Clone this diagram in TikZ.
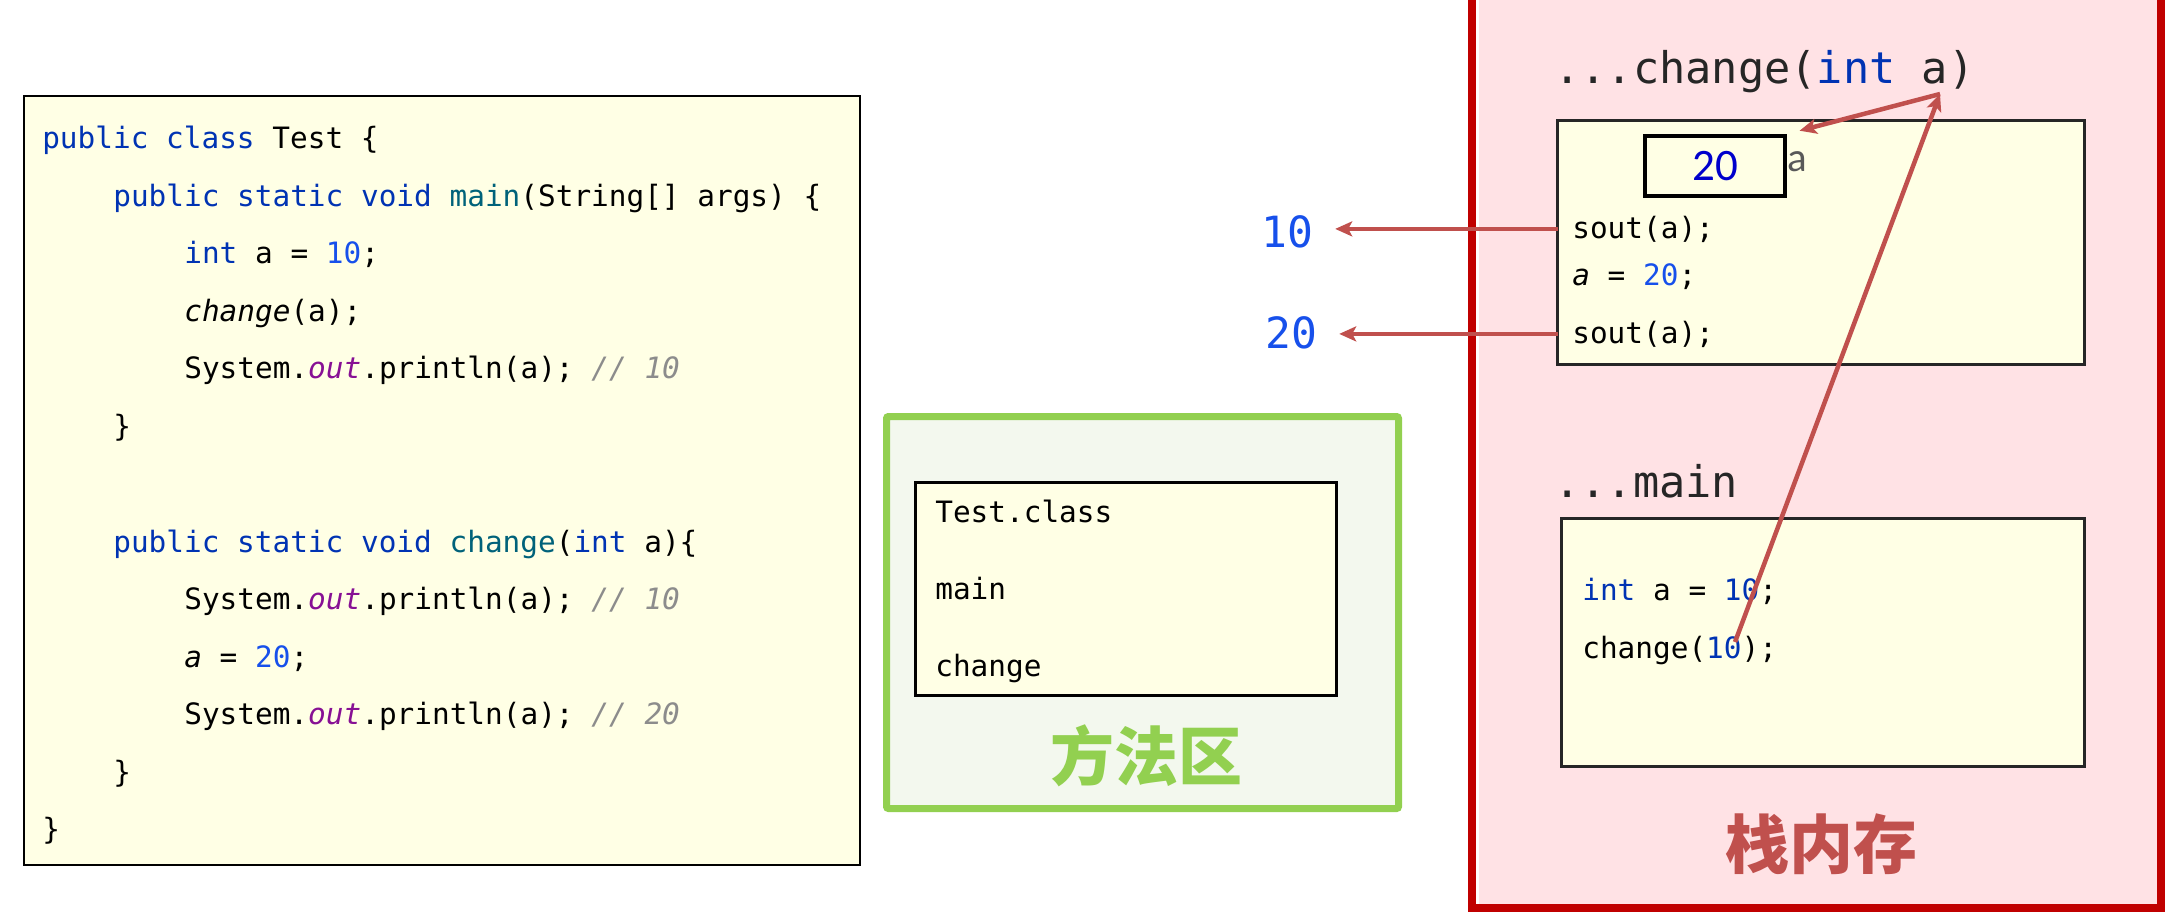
\documentclass[tikz,border=0pt]{standalone}
\usepackage{fontspec}
\setmonofont{DejaVu Sans Mono}
\newfontfamily\cjk{Noto Sans CJK SC}
\newfontfamily\calibri{Carlito}
\usepackage{tikz}
\usetikzlibrary{arrows.meta}

\definecolor{kwblue}{HTML}{0033B3}
\definecolor{numblue}{HTML}{1750EB}
\definecolor{fnteal}{HTML}{00627A}
\definecolor{outpurple}{HTML}{871094}
\definecolor{cmtgray}{HTML}{8C8C8C}
\definecolor{codeyellow}{HTML}{FFFFE5}
\definecolor{areagreen}{HTML}{92D050}
\definecolor{areafill}{HTML}{F3F8EE}
\definecolor{stackred}{HTML}{C00000}
\definecolor{stackfill}{HTML}{FFE2E5}
\definecolor{arrowred}{HTML}{C0504D}
\definecolor{framegray}{HTML}{262626}
\definecolor{labelgray}{HTML}{595959}
\definecolor{valblue}{HTML}{0000CC}

\begin{document}
\begin{tikzpicture}[x=1pt,y=-1pt,>={Stealth[length=17pt,width=15pt,inset=4pt]},semithick]
	\tikzstyle{code}=[anchor=base west,inner sep=0pt,font=\ttfamily\fontsize{29.4}{34}\selectfont]
	\tikzstyle{head}=[anchor=base west,inner sep=0pt,text=framegray,font=\ttfamily\fontsize{43.6}{50}\selectfont]
	\tikzstyle{result}=[anchor=base,inner xsep=22pt,inner ysep=0pt,text=numblue,font=\ttfamily\fontsize{43}{50}\selectfont]
	\tikzstyle{area}=[inner sep=0pt,font=\cjk\bfseries\fontsize{64}{70}\selectfont]
	\tikzstyle{box}=[anchor=north west,inner sep=0pt,outer sep=0pt]
	\tikzstyle{frame}=[box,draw=framegray,line width=3pt,fill=codeyellow]
	\tikzstyle{pass}=[->,draw=arrowred,line width=4.5pt]
	
	\useasboundingbox (0,0) rectangle (2170,919);
	
	\node[box,draw=black,line width=2.5pt,fill=codeyellow,minimum width=836pt,minimum height=769pt] (Code) at (24,96) {};
	\node[code] (L1)  at (42,148) {\textcolor{kwblue}{public class} Test \{};
	\node[code] (L2)  at (113,206) {\textcolor{kwblue}{public static void} \textcolor{fnteal}{main}(String[] args) \{};
	\node[code] (L3)  at (184,263) {\textcolor{kwblue}{int} a = \textcolor{numblue}{10};};
	\node[code] (L4)  at (184,321) {\textit{change}(a);};
	\node[code] (L5)  at (184,378) {System.\textcolor{outpurple}{\textit{out}}.println(a); \textcolor{cmtgray}{\textit{// 10}}};
	\node[code] (L6)  at (113,436) {\}};
	\node[code] (L7)  at (113,552) {\textcolor{kwblue}{public static void} \textcolor{fnteal}{change}(\textcolor{kwblue}{int} a)\{};
	\node[code] (L8)  at (184,609) {System.\textcolor{outpurple}{\textit{out}}.println(a); \textcolor{cmtgray}{\textit{// 10}}};
	\node[code] (L9)  at (184,667) {\textit{a} = \textcolor{numblue}{20};};
	\node[code] (L10) at (184,724) {System.\textcolor{outpurple}{\textit{out}}.println(a); \textcolor{cmtgray}{\textit{// 20}}};
	\node[code] (L11) at (113,782) {\}};
	\node[code] (L12) at (42,839) {\}};
	
	\node[box,draw=areagreen,line width=7pt,fill=areafill,rounded corners=2pt,minimum width=512pt,minimum height=392pt] (Area) at (886.5,416.5) {};
	\node[box,draw=black,line width=3pt,fill=codeyellow,minimum width=421pt,minimum height=213pt] (Meth) at (915.5,482.5) {};
	\node[code] (T1) at (935,522) {Test.class};
	\node[code] (T2) at (935,599) {main};
	\node[code] (T3) at (935,676) {change};
	\node[area,text=areagreen] (AreaName) at (1146,756) {方法区};
	
	\fill[stackfill] (1479,-10) rectangle (2158,904);
	\draw[stackred,line width=8pt] (1472,-10) -- (1472,908) -- (2161,908) -- (2161,-10);
	\node[area,text=arrowred] (StackName) at (1821,844) {栈内存};
	
	\node[head] (CH) at (1554,83) {...change(\textcolor{kwblue}{int} a)};
	\node[frame,minimum width=527pt,minimum height=244pt] (CF) at (1557.5,120.5) {};
	\node[draw=black,line width=4pt,fill=codeyellow,minimum width=140pt,minimum height=60pt,inner sep=0pt,text=valblue,font=\calibri\fontsize{45}{50}\selectfont] (V) at (1715,166) {20};
	\node[anchor=base west,inner sep=0pt,text=labelgray,font=\calibri\fontsize{41}{46}\selectfont] (VA) at (1787,171) {a};
	\node[code] (S1) at (1572,238) {sout(a);};
	\node[code] (S2) at (1572,285) {\textit{a} = \textcolor{numblue}{20};};
	\node[code] (S3) at (1572,343) {sout(a);};
	
	\node[head] (MH) at (1554,497) {...main};
	\node[frame,minimum width=523pt,minimum height=248pt] (MF) at (1561.5,518.5) {};
	\node[code] (M1) at (1582,600) {\textcolor{kwblue}{int} a = \textcolor{kwblue}{10};};
	\node[code] (M2) at (1582,658) {change(\textcolor{kwblue}{10});};
	
	\node[result] (R10) at (1287,247) {10};
	\node[result] (R20) at (1291,348) {20};
	
	\coordinate (P10) at (1735,642);
	\coordinate (PA) at (1940,94);
	
	\path (S1.west -| CF.west) edge[pass] (R10.east |- S1.west);
	\path (S3.west -| CF.west) edge[pass] (R20.east |- S3.west);
	\path (P10) edge[pass] (PA);
	\path (PA) edge[pass,shorten >=13pt] (V.north east);
	
\end{tikzpicture}
\end{document}
